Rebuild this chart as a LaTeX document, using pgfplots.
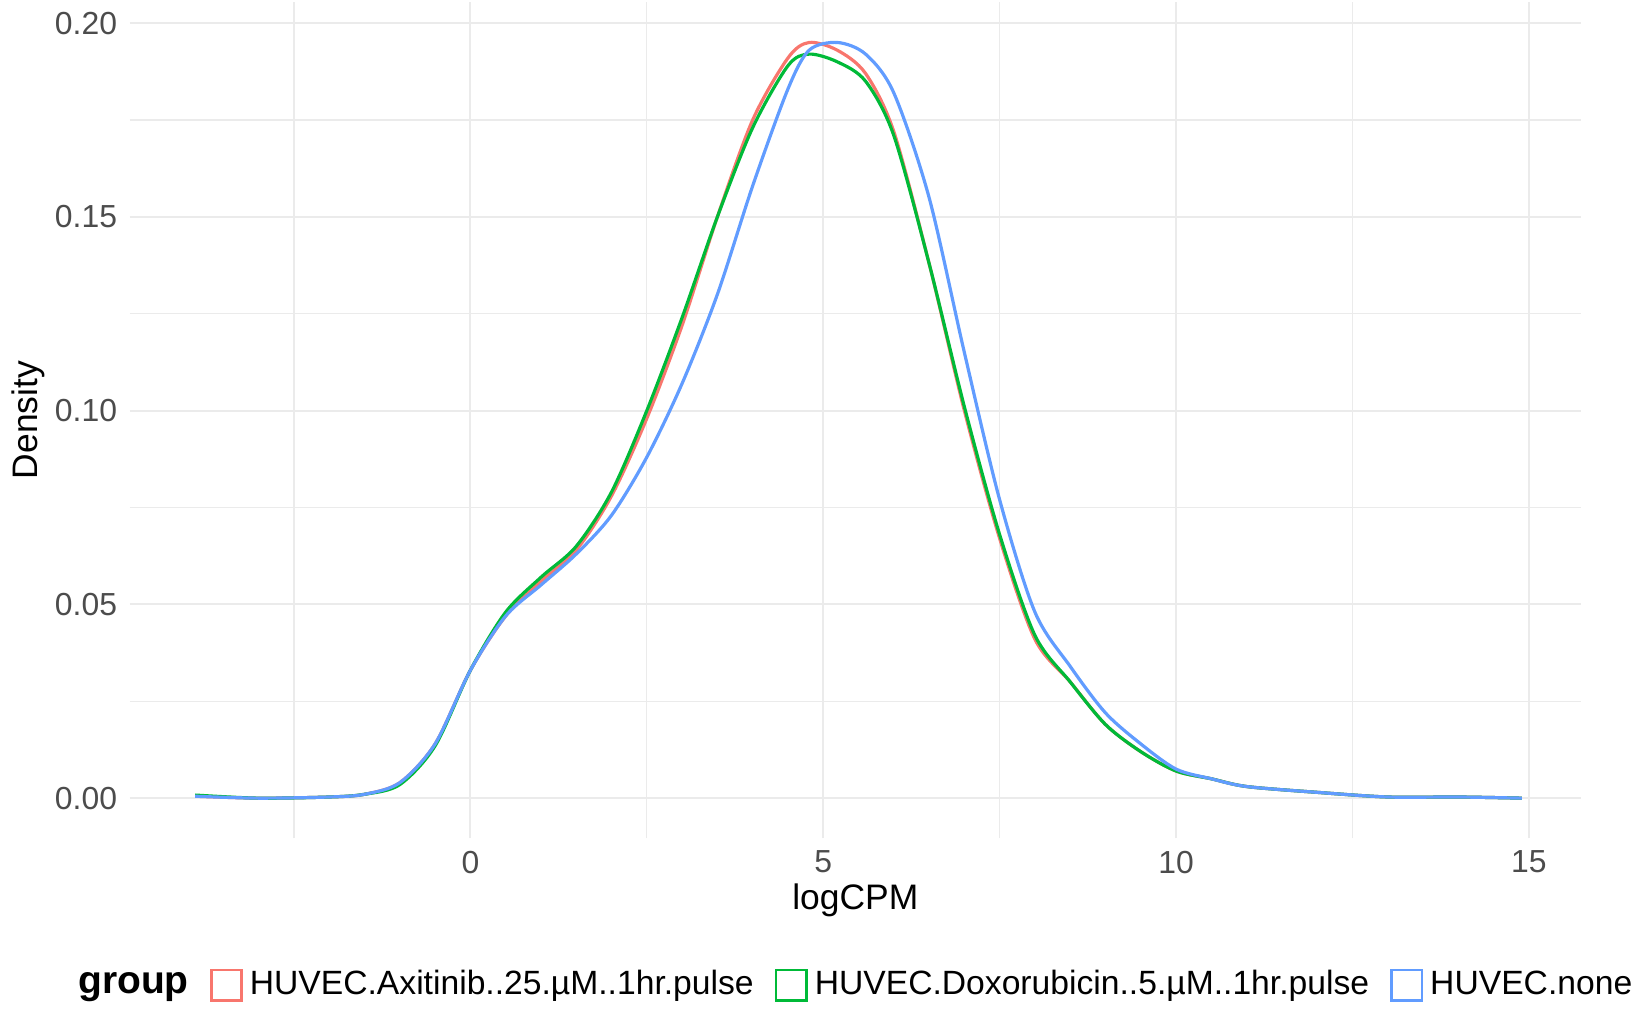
\documentclass[border=0pt]{standalone}
\usepackage{pgfplots}
\pgfplotsset{compat=1.18}
\usepackage{fontspec}
\setmainfont{Liberation Sans}
\definecolor{cr}{HTML}{F8766D}
\definecolor{cg}{HTML}{00BA38}
\definecolor{cb}{HTML}{619CFF}
\definecolor{gr}{HTML}{EBEBEB}
\begin{document}
\begin{tikzpicture}
\begin{axis}[
 scale only axis, width=14.4cm, height=8.3cm,
 xmin=-4.83, xmax=15.74, ymin=-0.0104, ymax=0.2055,
 axis line style={draw=none}, tick style={draw=none},
 xtick={0,5,10,15}, minor xtick={-2.5,2.5,7.5,12.5},
 ytick={0,0.05,0.1,0.15,0.2}, minor ytick={0.025,0.075,0.125,0.175},
 yticklabel style={/pgf/number format/.cd,fixed,fixed zerofill,precision=2},
 /pgf/number format/assume math mode=true,
 ticklabel style={font=\fontsize{9}{11}\selectfont, text=black!70},
 grid=both, major grid style={gr, line width=0.6pt}, minor grid style={gr, line width=0.35pt},
 xlabel={logCPM}, ylabel={Density},
 xlabel style={yshift=4pt}, ylabel style={yshift=-4pt},
 label style={font=\fontsize{10}{12}\selectfont},
 legend columns=-1,
 legend style={draw=none, at={(0.5,-0.14)}, anchor=north, font=\fontsize{9.5}{12}\selectfont,
   /tikz/every even column/.append style={column sep=4pt}},
 legend image code/.code={\draw[#1, line width=0.7pt, fill=none] (0cm,-0.15cm) rectangle (0.3cm,0.15cm);},
 every axis plot/.append style={smooth, line width=0.9pt, mark=none},
]
\addlegendimage{empty legend}
\addlegendentry{\fontsize{11}{12}\selectfont\textbf{group}}
\addplot[cr] coordinates {(-3.9,0.0005)(-3,0)(-2,0.0003)(-1.5,0.001)(-1,0.004)(-0.5,0.014)(0,0.033)(0.5,0.047)(1,0.056)(1.5,0.064)(2,0.078)(2.5,0.098)(3,0.122)(3.5,0.150)(4,0.175)(4.5,0.191)(4.8,0.195)(5.2,0.193)(5.6,0.187)(6,0.172)(6.5,0.138)(7,0.100)(7.5,0.067)(8,0.041)(8.5,0.030)(9,0.019)(9.5,0.012)(10,0.007)(10.5,0.005)(11,0.003)(12,0.0015)(13,0.0003)(14,0.0003)(14.9,0)};
\addlegendentry{HUVEC.Axitinib..25.µM..1hr.pulse}
\addplot[cg] coordinates {(-3.9,0.0008)(-3,0)(-2,0.0003)(-1.5,0.001)(-1,0.0035)(-0.5,0.0135)(0,0.033)(0.5,0.048)(1,0.057)(1.5,0.065)(2,0.079)(2.5,0.100)(3,0.124)(3.5,0.150)(4,0.173)(4.5,0.189)(4.8,0.192)(5.2,0.190)(5.6,0.185)(6,0.171)(6.5,0.138)(7,0.101)(7.5,0.068)(8,0.042)(8.5,0.030)(9,0.019)(9.5,0.012)(10,0.007)(10.5,0.005)(11,0.003)(12,0.0015)(13,0.0003)(14,0.0003)(14.9,0)};
\addlegendentry{HUVEC.Doxorubicin..5.µM..1hr.pulse}
\addplot[cb] coordinates {(-3.9,0.0005)(-3,0)(-2,0.0003)(-1.5,0.001)(-1,0.004)(-0.5,0.014)(0,0.033)(0.5,0.047)(1,0.055)(1.5,0.063)(2,0.073)(2.5,0.088)(3,0.107)(3.5,0.130)(4,0.158)(4.5,0.183)(4.8,0.193)(5.2,0.195)(5.6,0.192)(6,0.182)(6.5,0.155)(7,0.115)(7.5,0.077)(8,0.048)(8.5,0.034)(9,0.022)(9.5,0.014)(10,0.0075)(10.5,0.005)(11,0.003)(12,0.0015)(13,0.0003)(14,0.0003)(14.9,0)};
\addlegendentry{HUVEC.none}
\end{axis}
\end{tikzpicture}
\end{document}
